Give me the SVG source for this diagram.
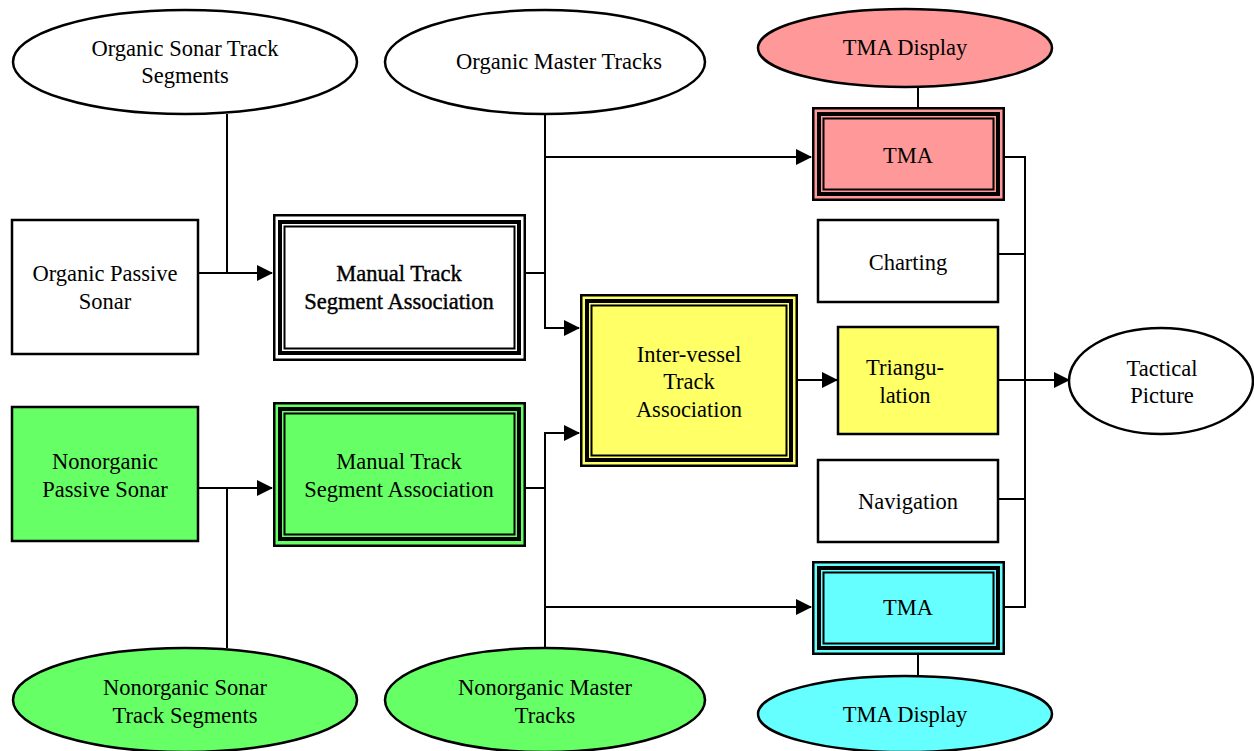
<svg xmlns="http://www.w3.org/2000/svg" width="1254" height="751" viewBox="0 0 1254 751">
<style>
text{font-family:"Liberation Serif","Times New Roman",serif;font-size:22.5px;fill:#000;text-anchor:middle}
.sh{stroke:#000;stroke-width:2.5}
.o{stroke:#000;stroke-width:2.5}
.k{fill:none;stroke:#000;stroke-width:4}
.i{fill:none;stroke:#000;stroke-width:2}
.c{fill:none;stroke:#000;stroke-width:2}
.w{fill:#fff}.p{fill:#FF9999}.y{fill:#FFFF66}.g{fill:#66FF66}.cy{fill:#66FFFF}
</style>
<defs>
<marker id="a" markerUnits="userSpaceOnUse" markerWidth="16" markerHeight="16" viewBox="0 0 16 16" refX="15" refY="8" orient="auto">
<path d="M0,0 L16,8 L0,16 Z" fill="#000"/>
</marker>
</defs>
<rect width="1254" height="751" fill="#fff"/>
<g id="connectors">
<path class="c" d="M227,114 V273"/>
<path class="c" d="M197,273 H272" marker-end="url(#a)"/>
<path class="c" d="M545,114 V328 H579" marker-end="url(#a)"/>
<path class="c" d="M545,157 H811" marker-end="url(#a)"/>
<path class="c" d="M525,273 H545"/>
<path class="c" d="M227,488 V648"/>
<path class="c" d="M198,488 H272" marker-end="url(#a)"/>
<path class="c" d="M545,648 V433 H579" marker-end="url(#a)"/>
<path class="c" d="M545,607 H811" marker-end="url(#a)"/>
<path class="c" d="M525,488 H545"/>
<path class="c" d="M797,380 H837" marker-end="url(#a)"/>
<path class="c" d="M998,380 H1069" marker-end="url(#a)"/>
<path class="c" d="M1004,157 H1025 V607 H1004"/>
<path class="c" d="M998,254 H1025"/>
<path class="c" d="M998,499 H1025"/>
<path class="c" d="M918,87 V108"/>
<path class="c" d="M918,654 V676"/>
</g>
<g id="organic-sonar-track-segments">
<ellipse class="sh w" cx="185" cy="62" rx="172" ry="52"/>
<text x="185" y="56">Organic Sonar Track</text>
<text x="185" y="83">Segments</text>
</g>
<g id="organic-master-tracks">
<ellipse class="sh w" cx="545" cy="62" rx="160" ry="52"/>
<text x="559" y="69">Organic Master Tracks</text>
</g>
<g id="tma-display-top">
<ellipse class="sh p" cx="905" cy="48" rx="147" ry="39"/>
<text x="905" y="55">TMA Display</text>
</g>
<g id="organic-passive-sonar">
<rect class="sh w" x="12" y="220" width="186" height="134"/>
<text x="105" y="281">Organic Passive</text>
<text x="105" y="309">Sonar</text>
</g>
<g id="manual-top">
<rect class="o w" x="274.25" y="215.25" width="250.5" height="144.5"/>
<rect class="k" x="280" y="222" width="239" height="131"/>
<rect class="i" x="284.5" y="226.5" width="230" height="122"/>
<text x="399" y="281" stroke="#000" stroke-width="0.4">Manual Track</text>
<text x="399" y="309" stroke="#000" stroke-width="0.4">Segment Association</text>
</g>
<g id="nonorganic-passive-sonar">
<rect class="sh g" x="12" y="407" width="186" height="134"/>
<text x="105" y="469">Nonorganic</text>
<text x="105" y="497">Passive Sonar</text>
</g>
<g id="manual-bottom">
<rect class="o g" x="274.25" y="403.25" width="250.5" height="142.5"/>
<rect class="k" x="280" y="409" width="239" height="130"/>
<rect class="i" x="284.5" y="413.5" width="230" height="121"/>
<text x="399" y="469">Manual Track</text>
<text x="399" y="497">Segment Association</text>
</g>
<g id="inter-vessel">
<rect class="o y" x="581.25" y="295.25" width="215.5" height="170.5"/>
<rect class="k" x="587" y="301" width="204" height="159"/>
<rect class="i" x="591.5" y="305.5" width="195" height="150"/>
<text x="689" y="362">Inter-vessel</text>
<text x="689" y="389">Track</text>
<text x="689" y="417">Association</text>
</g>
<g id="tma-top">
<rect class="o p" x="813.25" y="108.25" width="190.5" height="91.5"/>
<rect class="k" x="819" y="114" width="179" height="80"/>
<rect class="i" x="823.5" y="118.5" width="170" height="71"/>
<text x="908" y="163">TMA</text>
</g>
<g id="charting">
<rect class="sh w" x="818" y="220" width="180" height="82"/>
<text x="908" y="270">Charting</text>
</g>
<g id="triangulation">
<rect class="sh y" x="838" y="327" width="160" height="107"/>
<text x="905" y="375">Triangu-</text>
<text x="905" y="403">lation</text>
</g>
<g id="navigation">
<rect class="sh w" x="818" y="460" width="180" height="82"/>
<text x="908" y="509">Navigation</text>
</g>
<g id="tma-bottom">
<rect class="o cy" x="813.25" y="562.25" width="190.5" height="91.5"/>
<rect class="k" x="819" y="568" width="179" height="80"/>
<rect class="i" x="823.5" y="572.5" width="170" height="71"/>
<text x="908" y="615">TMA</text>
</g>
<g id="tactical-picture">
<ellipse class="sh w" cx="1161" cy="381" rx="92" ry="53"/>
<text x="1162" y="376">Tactical</text>
<text x="1162" y="403">Picture</text>
</g>
<g id="nonorganic-sonar-track-segments">
<ellipse class="sh g" cx="185" cy="700" rx="172" ry="52"/>
<text x="185" y="695">Nonorganic Sonar</text>
<text x="185" y="723">Track Segments</text>
</g>
<g id="nonorganic-master-tracks">
<ellipse class="sh g" cx="545" cy="700" rx="160" ry="52"/>
<text x="545" y="695">Nonorganic Master</text>
<text x="545" y="723">Tracks</text>
</g>
<g id="tma-display-bottom">
<ellipse class="sh cy" cx="905" cy="714" rx="147" ry="38"/>
<text x="905" y="722">TMA Display</text>
</g>
</svg>
